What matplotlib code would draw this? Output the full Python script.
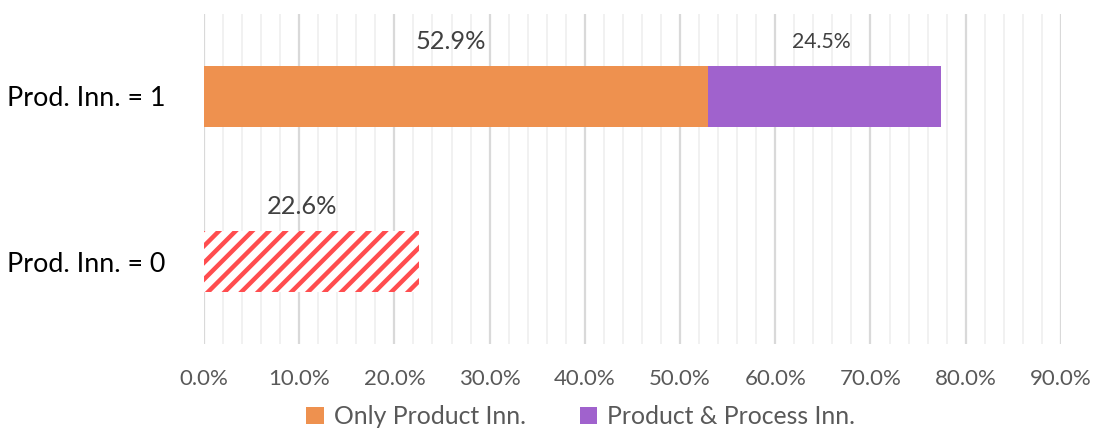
import numpy as np
import matplotlib.pyplot as plt
from matplotlib.ticker import MultipleLocator, FuncFormatter

# Data
categories = ['Prod. Inn. = 0', 'Prod. Inn. = 1']
only_product = [0, 52.9]
product_process = [0, 24.5]
no_product = [22.6, 0]
series_names = ['Only Product Inn.', 'Product & Process Inn.']

plt.rcParams['font.family'] = ['Lato', 'DejaVu Sans']
plt.rcParams['hatch.linewidth'] = 3.2

orange = '#EE914F'
purple = '#A062CD'
red = '#FF4D4F'

fig = plt.figure(figsize=(10.96, 4.33), dpi=100)
ax = fig.add_axes([0.1861, 0.2055, 0.968 - 0.1861, 0.9677 - 0.2055])

y = np.arange(len(categories))
h = 0.364

ax.barh(y, only_product, height=h, color=orange, label=series_names[0], zorder=3)
ax.barh(y, product_process, left=only_product, height=h, color=purple,
        label=series_names[1], zorder=3)
ax.barh(y, no_product, height=h, facecolor='white', edgecolor=red, hatch='//',
        linewidth=0, zorder=3)

# value labels above the bars
ax.text(only_product[1] / 2 - 0.5, y[1] + h / 2 + 0.15, f'{only_product[1]:.1f}%',
        ha='center', va='center', fontsize=18.3, color='#404040')
ax.text(only_product[1] + product_process[1] / 2 - 0.3, y[1] + h / 2 + 0.15,
        f'{product_process[1]:.1f}%', ha='center', va='center', fontsize=15.3,
        color='#404040')
ax.text(no_product[0] / 2 - 1.0, y[0] + h / 2 + 0.15, f'{no_product[0]:.1f}%',
        ha='center', va='center', fontsize=18.3, color='#404040')

ax.set_xlim(0, 90)
ax.set_ylim(-0.5, 1.5)
ax.set_yticks(y)
ax.set_yticklabels(categories, fontsize=19.4, color='black')
ax.xaxis.set_major_locator(MultipleLocator(10))
ax.xaxis.set_minor_locator(MultipleLocator(2))
ax.xaxis.set_major_formatter(FuncFormatter(lambda v, p: f'{v:.1f}%'))
ax.tick_params(axis='x', which='both', length=0, labelsize=16,
               labelcolor='#595959', pad=18)
ax.tick_params(axis='y', length=0, pad=28)

ax.grid(axis='x', which='major', color='#D9D9D9', linewidth=1.6, zorder=0)
ax.grid(axis='x', which='minor', color='#EFEFEF', linewidth=1.2, zorder=0)
ax.set_axisbelow(True)
for s in ax.spines.values():
    s.set_visible(False)

leg = fig.legend(loc='lower center', bbox_to_anchor=(0.53, -0.04), ncol=2,
                 frameon=False, fontsize=17.8, handlelength=0.7,
                 handleheight=0.7, handletextpad=0.4, columnspacing=2.2)
for t in leg.get_texts():
    t.set_color('#595959')

fig.savefig('out.png', dpi=100)
